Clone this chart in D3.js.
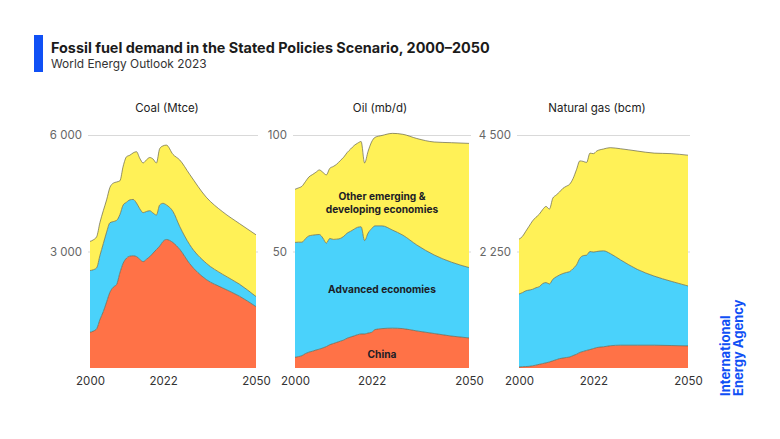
<!DOCTYPE html>
<html>
<head>
<meta charset="utf-8">
<script src="https://cdn.jsdelivr.net/npm/d3@7"></script>
<style>
  html, body { margin: 0; padding: 0; background: #ffffff; }
  svg { display: block; }
  text { font-family: Inter, "Open Sans", sans-serif; }
</style>
</head>
<body>
<svg id="chart" width="780" height="439"></svg>
<script>
// ---------------- DATA ----------------
const seriesKeys = ["china", "advanced", "other"];
const seriesColors = ["#ff7247", "#4ad2fb", "#fff157"];

const coalYears = [2000,2001,2002,2003,2004,2005,2006,2007,2008,2009,2010,2011,2012,2013,2014,2015,2016,2017,2018,2019,2020,2021,2022,2023,2025,2027,2030,2035,2040,2045,2050];
const coalChina    = [920,950,1010,1250,1450,1700,1950,2080,2150,2450,2700,2830,2880,2890,2870,2800,2740,2800,2870,2960,3050,3140,3260,3310,3230,3060,2690,2280,2060,1850,1580];
const coalAdvanced = [1590,1580,1570,1650,1750,1800,1790,1690,1650,1500,1500,1440,1450,1450,1380,1300,1260,1230,1180,1030,890,1060,980,890,800,590,490,420,350,310,260];
const coalOther    = [750,770,800,850,850,830,910,990,990,870,1000,1170,1150,1200,1320,1300,1280,1330,1370,1390,1340,1450,1480,1540,1470,1710,1810,1700,1610,1560,1590];
const coalTicks = [3000, 6000];

const oilYears = [2000,2001,2002,2003,2004,2005,2006,2007,2008,2009,2010,2011,2012,2013,2014,2015,2016,2017,2018,2019,2020,2021,2022,2023,2025,2028,2031,2035,2040,2045,2050];
const oilChina    = [4.6,4.9,5.3,6.2,6.8,7.2,7.7,8.1,8.6,9.2,10.0,10.5,11.0,11.5,12.0,12.8,13.3,13.8,14.3,14.6,14.6,15.0,15.3,16.5,16.9,17.1,16.9,15.9,14.8,13.7,12.9];
const oilAdvanced = [49.3,49.1,48.7,49.3,49.9,49.8,49.5,49.2,47.2,44.4,45.6,44.7,44.3,44.1,44.5,45.1,45.4,45.8,46.1,46.0,40.1,42.9,44.5,44.5,44.1,42.1,40.1,36.9,33.7,31.7,30.2];
const oilOther    = [22.8,23.3,24.0,24.5,25.3,26.0,26.8,27.7,28.2,29.3,30.1,31.3,32.2,33.4,34.0,34.6,35.3,35.9,36.1,36.6,33.3,35.1,37.2,38.0,38.8,41.5,43.3,45.7,48.5,51.3,53.3];
const oilTicks = [50, 100];

const gasYears = [2000,2001,2002,2003,2004,2005,2006,2007,2008,2009,2010,2011,2012,2013,2014,2015,2016,2017,2018,2019,2020,2021,2022,2023,2025,2027,2030,2035,2040,2045,2050];
const gasChina    = [19,25,28,32,42,55,71,85,100,116,138,160,181,192,203,213,240,265,300,320,340,356,375,395,410,430,440,440,440,434,427];
const gasAdvanced = [1410,1430,1462,1473,1478,1495,1499,1545,1550,1507,1575,1600,1616,1633,1642,1649,1680,1725,1820,1850,1840,1894,1865,1855,1853,1780,1650,1465,1335,1241,1157];
const gasOther    = [1060,1085,1150,1235,1320,1360,1400,1430,1470,1447,1567,1580,1603,1645,1665,1688,1740,1840,1880,1820,1790,1900,1900,1940,1967,2045,2145,2285,2375,2465,2526];
const gasTicks = [2250, 4500];

const xTickYears = [2000, 2022, 2050];
const panelTitles = ["Coal (Mtce)", "Oil (mb/d)", "Natural gas (bcm)"];
const oilLabels = [["Other emerging &", "developing economies"], ["Advanced economies"], ["China"]];

// ---------------- LAYOUT ----------------
const svg = d3.select("#chart");
const yBottom = 368, yTop = 135;

const panels = [
  { title: panelTitles[0], years: coalYears, vals: [coalChina, coalAdvanced, coalOther], yMax: 6000, ticks: coalTicks, x0: 90, x1: 256, titleX: 167 },
  { title: panelTitles[1], years: oilYears,  vals: [oilChina, oilAdvanced, oilOther],    yMax: 100,  ticks: oilTicks,  x0: 295, x1: 469, titleX: 380 },
  { title: panelTitles[2], years: gasYears,  vals: [gasChina, gasAdvanced, gasOther],    yMax: 4500, ticks: gasTicks,  x0: 519, x1: 688, titleX: 597 }
];

const fmt = d => d3.format(",")(d).replace(/,/g, " ");

// Title block
svg.append("rect").attr("x", 34).attr("y", 35).attr("width", 9).attr("height", 37).attr("fill", "#1050f5");
svg.append("text").attr("x", 51).attr("y", 53)
  .attr("font-size", 14.4).attr("font-weight", 700).attr("fill", "#1b1b1b")
  .text("Fossil fuel demand in the Stated Policies Scenario, 2000–2050");
svg.append("text").attr("x", 51).attr("y", 68)
  .attr("font-size", 11.9).attr("fill", "#333")
  .text("World Energy Outlook 2023");

panels.forEach((p, pi) => {
  const x = d3.scaleLinear().domain([2000, 2050]).range([p.x0, p.x1]);
  const y = d3.scaleLinear().domain([0, p.yMax]).range([yBottom, yTop]);
  const rows = p.years.map((yr, i) => ({ year: yr, china: p.vals[0][i], advanced: p.vals[1][i], other: p.vals[2][i] }));
  const stacked = d3.stack().keys(seriesKeys)(rows);

  const g = svg.append("g");

  // panel title
  g.append("text").attr("x", p.titleX).attr("y", 112).attr("text-anchor", "middle")
    .attr("font-size", 11.5).attr("fill", "#222").text(p.title);

  // y axis with gridlines
  const ya = g.append("g").attr("transform", `translate(${p.x0 - 2},0)`)
    .call(d3.axisLeft(y).tickValues(p.ticks).tickSize(-(p.x1 - p.x0 + 4)).tickPadding(6).tickFormat(fmt));
  ya.select(".domain").remove();
  ya.selectAll("line").attr("stroke", "#d9d9d9").attr("stroke-width", 1);
  ya.selectAll("text").attr("font-family", "Inter, 'Open Sans', sans-serif").attr("font-size", 11.5).attr("fill", "#666");

  // areas
  const area = d3.area().x(d => x(d.data.year)).y0(d => y(d[0])).y1(d => y(d[1])).curve(d3.curveMonotoneX);
  const line = d3.line().x(d => x(d.data.year)).y(d => y(d[1])).curve(d3.curveMonotoneX);
  stacked.forEach((s, si) => {
    g.append("path").attr("d", area(s)).attr("fill", seriesColors[si]);
  });
  stacked.forEach((s, si) => {
    g.append("path").attr("d", line(s)).attr("fill", "none").attr("stroke", "#5f5f48").attr("stroke-width", 0.8).attr("stroke-opacity", 0.85);
  });

  // x axis labels
  const xa = g.append("g").attr("transform", `translate(0,${yBottom})`)
    .call(d3.axisBottom(x).tickValues(xTickYears).tickSize(0).tickPadding(9).tickFormat(d3.format("d")));
  xa.select(".domain").remove();
  xa.selectAll("text").attr("font-family", "Inter, 'Open Sans', sans-serif").attr("font-size", 11.5).attr("fill", "#333");

  // in-chart labels for oil panel
  if (pi === 1) {
    const lx = (p.x0 + p.x1) / 2;
    const labelYs = [[200, 212.5], [292.5], [358]];
    oilLabels.forEach((lines, li) => {
      lines.forEach((t, k) => {
        g.append("text").attr("x", lx).attr("y", labelYs[li][k]).attr("text-anchor", "middle")
          .attr("font-size", 10.2).attr("font-weight", 700).attr("fill", "#1d1d26").text(t);
      });
    });
  }
});

// IEA logo text
const logo = svg.append("g").attr("fill", "#1050f5").attr("font-weight", 700).attr("font-size", 13);
logo.append("text").attr("transform", "translate(730,396) rotate(-90)").text("International");
logo.append("text").attr("transform", "translate(743,396) rotate(-90)").text("Energy Agency");
</script>
</body>
</html>
